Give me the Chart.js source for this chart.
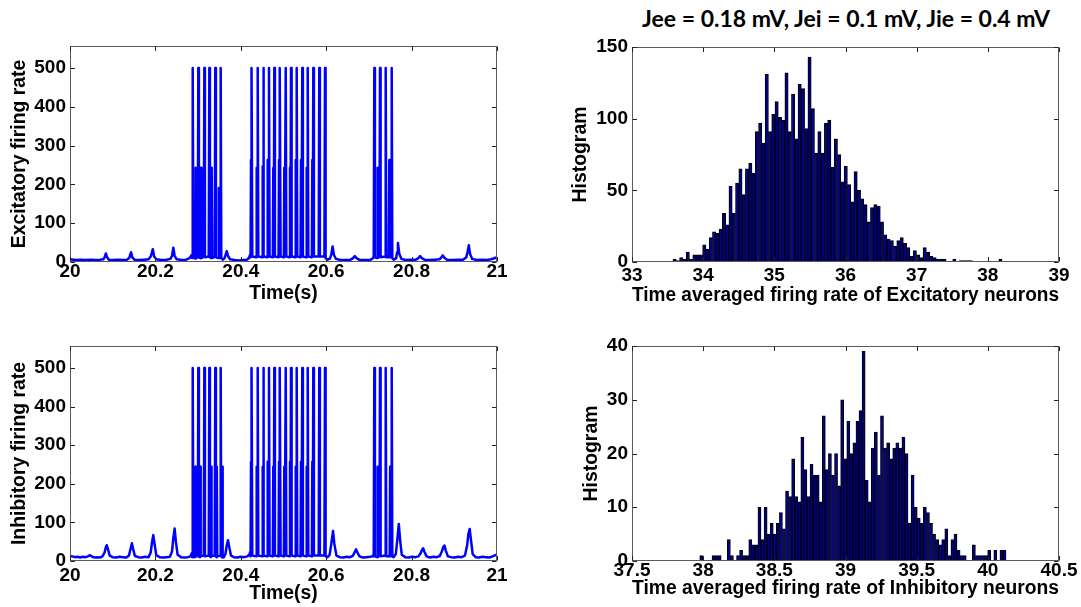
<!DOCTYPE html>
<html>
<head>
<meta charset="utf-8">
<script src="https://cdn.jsdelivr.net/npm/chart.js@4.4.1/dist/chart.umd.min.js"></script>
<style>
  html, body { margin: 0; padding: 0; background: #fff; overflow: hidden; }
  body { width: 1081px; height: 607px; position: relative; }
  .panel { position: absolute; }
  #title { position: absolute; left: 596px; width: 500px; top: 7px; text-align: center;
           font: bold 23px Lato, sans-serif; line-height: 23px; color: #000; white-space: nowrap; }
</style>
</head>
<body>
<div id="title">Jee = 0.18 mV, Jei = 0.1 mV, Jie = 0.4 mV</div>
<div class="panel" id="pExc"><canvas id="cExc"></canvas></div>
<div class="panel" id="pInh"><canvas id="cInh"></canvas></div>
<div class="panel" id="pExcHist"><canvas id="cExcHist"></canvas></div>
<div class="panel" id="pInhHist"><canvas id="cInhHist"></canvas></div>
<script>
// ── data ──
const timeTicks = [20, 20.2, 20.4, 20.6, 20.8, 21]
const rateTicks = [0, 100, 200, 300, 400, 500]

// [time (s), population rate]
const excTrace = [
  [20.000,7],[20.008,6],[20.016,5],[20.026,6],[20.036,5],[20.048,6],[20.060,5],[20.070,6],[20.078,7],[20.081,12],
  [20.084,22],[20.087,12],[20.091,6],[20.100,5],[20.112,6],[20.124,5],[20.134,6],[20.139,11],[20.143,25],[20.146,12],
  [20.151,6],[20.162,5],[20.174,6],[20.184,7],[20.189,14],[20.194,33],[20.197,14],[20.202,7],[20.214,5],[20.226,6],
  [20.235,8],[20.239,16],[20.242,37],[20.245,16],[20.250,7],[20.262,5],[20.272,6],[20.280,10],[20.2850,18],
  [20.2860,10],[20.2874,500],[20.2888,12],[20.2932,9],[20.2943,243],[20.2954,10],[20.2991,12],[20.3005,500],[20.3019,12],
  [20.3057,10],[20.3068,243],[20.3079,10],[20.3132,14],[20.3146,500],[20.3160,12],[20.3249,14],[20.3263,500],[20.3277,12],
  [20.3307,10],[20.3318,243],[20.3329,10],[20.3389,14],[20.3403,500],[20.3417,12],[20.3474,10],[20.3485,191],[20.3496,10],
  [20.3515,14],[20.3529,500],[20.3543,10],
  [20.358,6],[20.362,10],[20.365,20],[20.367,28],[20.370,16],[20.375,7],[20.385,5],[20.395,4],[20.405,5],[20.414,6],
  [20.419,10],[20.4222,20],
  [20.4229,12],[20.4239,263],[20.4248,14],[20.4255,500],[20.4269,14],
  [20.4361,12],[20.4372,243],[20.4382,14],[20.4396,500],[20.4410,14],
  [20.4502,12],[20.4513,247],[20.4520,14],[20.4527,500],[20.4541,14],
  [20.4619,12],[20.4630,263],[20.4641,14],[20.4660,500],[20.4674,14],
  [20.4750,12],[20.4761,243],[20.4771,14],[20.4785,500],[20.4799,14],
  [20.4884,12],[20.4895,263],[20.4905,14],[20.4918,500],[20.4932,14],
  [20.5008,12],[20.5019,243],[20.5030,14],[20.5052,500],[20.5066,14],
  [20.5141,12],[20.5152,243],[20.5162,14],[20.5176,500],[20.5190,14],
  [20.5275,12],[20.5286,263],[20.5296,14],[20.5309,500],[20.5323,14],
  [20.5399,12],[20.5410,263],[20.5421,14],[20.5440,500],[20.5454,14],
  [20.5532,12],[20.5543,243],[20.5553,14],[20.5567,500],[20.5581,14],
  [20.5664,12],[20.5675,263],[20.5685,14],[20.5698,500],[20.5712,14],
  [20.5824,14],[20.5838,500],[20.5852,14],[20.5958,14],[20.5972,500],[20.5986,10],
  [20.603,6],[20.609,9],[20.612,20],[20.615,40],[20.618,18],[20.623,8],[20.633,5],[20.645,5],[20.657,6],[20.663,10],
  [20.667,15],[20.671,10],[20.677,6],[20.690,5],[20.702,5],[20.709,9],[20.7110,14],
  [20.7113,12],[20.7127,500],[20.7141,12],[20.7194,10],[20.7205,243],[20.7216,12],[20.7246,14],[20.7260,500],[20.7274,12],
  [20.7379,14],[20.7393,500],[20.7407,12],[20.7467,12],[20.7478,263],[20.7489,12],[20.7520,14],[20.7534,500],[20.7548,10],
  [20.758,6],[20.764,10],[20.766,25],[20.768,49],[20.771,22],[20.776,8],[20.786,5],[20.798,6],[20.810,6],[20.816,10],
  [20.820,15],[20.824,10],[20.830,6],[20.842,5],[20.854,6],[20.865,7],[20.869,11],[20.873,17],[20.877,11],[20.883,6],
  [20.895,5],[20.908,6],[20.920,6],[20.928,12],[20.931,26],[20.934,43],[20.937,20],[20.942,8],[20.952,5],[20.964,6],
  [20.976,5],[20.986,7],[20.992,9],[20.996,11],[21.000,10]
]

const inhTrace = [
  [20.000,13],[20.006,12],[20.012,10],[20.018,11],[20.024,9],[20.030,11],[20.036,10],[20.042,12],[20.047,15],[20.052,11],
  [20.058,9],[20.064,10],[20.070,9],[20.076,12],[20.081,22],[20.084,36],[20.086,41],[20.089,30],[20.093,14],[20.100,10],
  [20.108,9],[20.116,11],[20.124,10],[20.132,9],[20.138,14],[20.141,28],[20.145,46],[20.148,30],[20.152,13],[20.160,10],
  [20.168,9],[20.176,11],[20.184,10],[20.189,22],[20.192,48],[20.195,67],[20.198,45],[20.202,15],[20.210,10],[20.218,9],
  [20.226,10],[20.234,11],[20.239,25],[20.242,60],[20.245,84],[20.248,50],[20.252,16],[20.260,10],[20.268,9],[20.276,10],
  [20.282,12],[20.2850,20],
  [20.2860,10],[20.2874,500],[20.2888,12],[20.2925,10],[20.2935,244],[20.2945,12],[20.2991,12],[20.3005,500],[20.3019,12],
  [20.3040,10],[20.3050,244],[20.3060,12],[20.3132,14],[20.3146,500],[20.3160,12],[20.3249,14],[20.3263,500],[20.3277,12],
  [20.3295,10],[20.3305,244],[20.3315,12],[20.3389,14],[20.3403,500],[20.3417,12],[20.3428,10],[20.3438,244],[20.3448,12],
  [20.3515,14],[20.3529,500],[20.3543,12],[20.3555,10],[20.3565,244],[20.3575,10],
  [20.360,9],[20.364,18],[20.367,40],[20.370,54],[20.373,36],[20.377,14],[20.384,10],[20.392,9],[20.400,11],[20.408,10],
  [20.415,12],[20.420,16],[20.4222,24],
  [20.4229,12],[20.4239,257],[20.4248,14],[20.4255,500],[20.4269,14],
  [20.4361,12],[20.4372,244],[20.4382,14],[20.4396,500],[20.4410,14],
  [20.4502,12],[20.4513,244],[20.4520,14],[20.4527,500],[20.4541,14],
  [20.4619,12],[20.4630,257],[20.4641,14],[20.4660,500],[20.4674,14],
  [20.4750,12],[20.4761,244],[20.4771,14],[20.4785,500],[20.4799,14],
  [20.4884,12],[20.4895,257],[20.4905,14],[20.4918,500],[20.4932,14],
  [20.5008,12],[20.5019,244],[20.5030,14],[20.5052,500],[20.5066,14],
  [20.5141,12],[20.5152,257],[20.5162,14],[20.5176,500],[20.5190,14],
  [20.5275,12],[20.5286,244],[20.5296,14],[20.5309,500],[20.5323,14],
  [20.5399,12],[20.5410,257],[20.5421,14],[20.5440,500],[20.5454,14],
  [20.5532,12],[20.5543,244],[20.5553,14],[20.5567,500],[20.5581,14],
  [20.5664,12],[20.5675,257],[20.5685,14],[20.5698,500],[20.5712,14],
  [20.5824,14],[20.5838,500],[20.5852,14],[20.5958,14],[20.5972,500],[20.5986,12],
  [20.603,10],[20.608,16],[20.612,45],[20.616,78],[20.619,45],[20.624,14],[20.632,10],[20.640,9],[20.648,11],[20.656,10],
  [20.663,14],[20.667,24],[20.670,30],[20.673,22],[20.678,12],[20.686,9],[20.694,10],[20.702,11],[20.708,12],[20.7110,16],
  [20.7113,12],[20.7127,500],[20.7141,12],[20.7194,10],[20.7205,244],[20.7216,12],[20.7246,14],[20.7260,500],[20.7274,12],
  [20.7379,14],[20.7393,500],[20.7407,12],[20.7487,12],[20.7497,244],[20.7507,12],[20.7520,14],[20.7534,500],[20.7548,12],
  [20.758,10],[20.763,18],[20.767,60],[20.770,96],[20.773,55],[20.777,16],[20.785,10],[20.793,9],[20.801,11],[20.809,10],
  [20.816,12],[20.821,20],[20.824,28],[20.827,33],[20.830,24],[20.835,12],[20.843,9],[20.851,11],[20.859,10],[20.866,13],
  [20.871,25],[20.874,36],[20.877,40],[20.880,27],[20.885,12],[20.893,10],[20.901,9],[20.909,11],[20.917,10],[20.925,14],
  [20.930,40],[20.933,70],[20.936,83],[20.939,55],[20.943,18],[20.950,10],[20.958,9],[20.966,11],[20.974,10],[20.982,9],
  [20.990,12],[20.996,15],[21.000,16]
]

// 100-bin histograms: first bin edge, last bin edge, counts
const excHistRange  = [33.576, 38.2]
const excHistCounts = [
  2,1,3,2,7,2,5,5,5,12, 9,17,21,20,23,34,26,53,34,55,
  65,47,65,69,62,91,97,83,131,91, 103,112,101,99,132,91,117,86,124,121,
  93,143,107,76,91,76,97,99,66,86, 75,56,67,54,42,63,50,44,40,28,
  38,40,39,28,19,16,15,11,15,17, 13,10,4,8,5,3,10,7,4,3,
  2,2,2,0,0,2,0,1,1,1, 1,0,0,0,0,0,0,0,0,2
]
const inhHistRange  = [37.976, 40.128]
const inhHistCounts = [
  1,0,0,0,1,1,1,0,0,4, 1,0,1,2,1,1,4,3,3,10,
  4,10,5,7,5,7,9,6,13,12, 19,12,11,23,17,12,18,16,16,11,
  27,17,20,16,20,14,30,19,26,20, 22,26,28,39,15,11,21,24,16,27,
  21,22,19,21,22,21,23,20,7,16, 10,8,7,10,9,7,5,4,3,4,
  6,1,4,5,2,1,1,0,0,3, 1,1,1,1,2,0,2,0,2,2
]
const excHistXTicks = [33, 34, 35, 36, 37, 38, 39]
const excHistYTicks = [0, 50, 100, 150]
const inhHistXTicks = [37.5, 38, 38.5, 39, 39.5, 40, 40.5]
const inhHistYTicks = [0, 10, 20, 30, 40]

// ── drawing ──
const FONT = "'Liberation Sans', Arial, sans-serif"
const tickFont  = { family: FONT, size: 19, weight: 'bold', lineHeight: 1 }
const titleFont = { family: FONT, size: 19.4, weight: 'bold', lineHeight: 1.2 }
const PAD_T = 20

// MATLAB-like box with inward ticks on all four sides
const boxPlugin = {
  id: 'box',
  afterDraw(chart) {
    const { ctx, chartArea: a, scales: { x, y } } = chart
    const L = 4.5
    const l = Math.round(a.left) + 0.5, r = Math.round(a.right) - 0.5
    const t = Math.round(a.top) + 0.5, b = Math.round(a.bottom) - 0.5
    ctx.save()
    ctx.strokeStyle = '#5a5a5a'
    ctx.lineWidth = 1
    ctx.strokeRect(l, t, r - l, b - t)
    ctx.strokeStyle = '#222'
    ctx.beginPath()
    x.ticks.forEach(tk => {
      const px = Math.round(x.getPixelForValue(tk.value)) + 0.5
      ctx.moveTo(px, b); ctx.lineTo(px, b - L)
      ctx.moveTo(px, t); ctx.lineTo(px, t + L)
    })
    y.ticks.forEach(tk => {
      const py = Math.round(y.getPixelForValue(tk.value)) + 0.5
      ctx.moveTo(l, py); ctx.lineTo(l + L, py)
      ctx.moveTo(r, py); ctx.lineTo(r - L, py)
    })
    ctx.stroke()
    ctx.restore()
  }
}

function place(id, box, yW, xH, padR) {
  const el = document.getElementById(id)
  const left = box.l - yW, top = box.t - PAD_T
  el.style.left   = left + 'px'
  el.style.top    = top + 'px'
  el.style.width  = (box.r + padR - left) + 'px'
  el.style.height = (box.b + xH - top) + 'px'
}

function axis(min, max, ticks, title, size, pad, isX) {
  return {
    type: 'linear', min, max, offset: false,
    grid: { display: false, drawTicks: false, tickLength: 0 }, border: { display: false },
    afterBuildTicks: s => { s.ticks = ticks.map(v => ({ value: v })) },
    afterFit: s => { if (isX) s.height = size; else s.width = size },
    ticks: { font: tickFont, color: '#000', padding: pad, maxRotation: 0, autoSkip: false,
             includeBounds: false, callback: v => String(v) },
    title: { display: true, text: title, font: titleFont, color: '#000', padding: 0 }
  }
}

function baseOpts(padR) {
  return {
    responsive: true, maintainAspectRatio: false, animation: false, devicePixelRatio: 1,
    layout: { padding: { left: 0, top: PAD_T, right: padR, bottom: 0 } },
    plugins: { legend: { display: false }, tooltip: { enabled: false } },
  }
}

function traceChart(canvasId, panelId, box, trace, yTitle, xH, xPad) {
  place(panelId, box, 62, xH, 25)
  new Chart(document.getElementById(canvasId), {
    type: 'line',
    data: { datasets: [{
      data: trace.map(([x, y]) => ({ x, y })),
      borderColor: '#0000ff', borderWidth: 2.5, pointRadius: 0,
      borderJoinStyle: 'round', tension: 0, fill: false,
    }] },
    options: { ...baseOpts(25),
      scales: {
        x: axis(20, 21, timeTicks, 'Time(s)', xH, xPad, true),
        y: axis(0, 557, rateTicks, yTitle, 62, 4, false),
      } },
    plugins: [boxPlugin],
  })
}

function histChart(canvasId, panelId, box, range, counts, xT, yT, xTitle, yW, xH, xPad) {
  place(panelId, box, yW, xH, 22)
  const w = (range[1] - range[0]) / counts.length
  new Chart(document.getElementById(canvasId), {
    type: 'bar',
    data: { datasets: [{
      data: counts.map((c, i) => ({ x: range[0] + (i + 0.5) * w, y: c })),
      backgroundColor: '#000088', borderColor: '#000000', borderWidth: 1,
      barPercentage: 1, categoryPercentage: 1,
    }] },
    options: { ...baseOpts(22),
      scales: {
        x: axis(xT[0], xT[xT.length - 1], xT, xTitle, xH, xPad, true),
        y: axis(yT[0], yT[yT.length - 1], yT, 'Histogram', yW, 4, false),
      } },
    plugins: [boxPlugin],
  })
}

traceChart('cExc', 'pExc', { l: 70, t: 46, r: 497, b: 262 }, excTrace, 'Excitatory firing rate', 43, 0)
traceChart('cInh', 'pInh', { l: 70, t: 346, r: 497, b: 561 }, inhTrace, 'Inhibitory firing rate', 44, 5)
histChart('cExcHist', 'pExcHist', { l: 632, t: 47, r: 1059, b: 262 }, excHistRange, excHistCounts,
  excHistXTicks, excHistYTicks, 'Time averaged firing rate of Excitatory neurons', 63, 45, 4)
histChart('cInhHist', 'pInhHist', { l: 632, t: 346, r: 1059, b: 561 }, inhHistRange, inhHistCounts,
  inhHistXTicks, inhHistYTicks, 'Time averaged firing rate of Inhibitory neurons', 52, 39, 0)
</script>
</body>
</html>
